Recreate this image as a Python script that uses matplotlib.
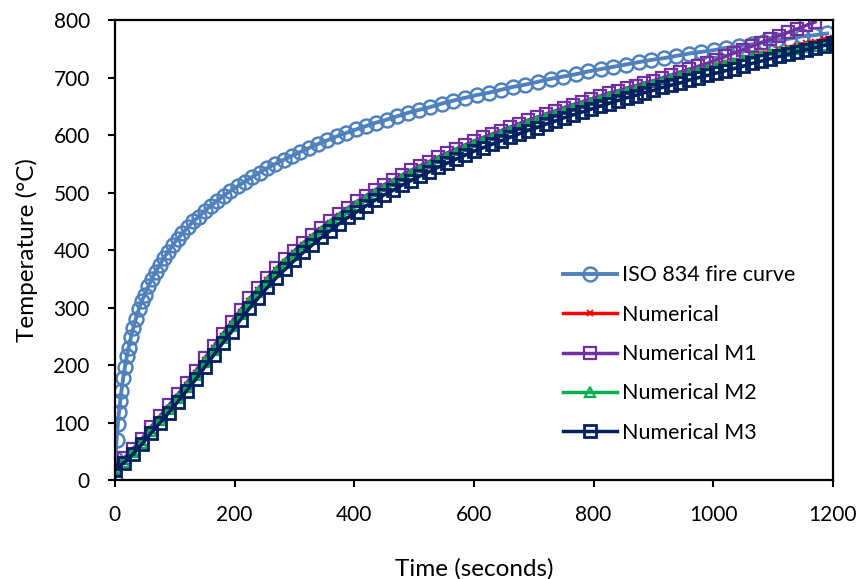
import numpy as np
import matplotlib.pyplot as plt

plt.rcParams['font.family'] = ['Lato', 'DejaVu Sans']

# ISO 834 fire curve (time in s, temperature in degC)
iso_t = [0, 1, 3, 5, 7, 9, 11, 14, 17, 20, 23, 27, 31, 35, 40, 45, 50, 56, 62, 68,
         75, 82, 89, 97, 105, 113, 122, 131, 140, 150, 160, 171, 182, 193, 205, 217,
         229, 242, 255, 268, 282, 296, 310, 325, 340, 355, 371, 387, 403, 420, 437,
         454, 472, 490, 508, 527, 546, 565, 585, 605, 625, 645, 665, 686, 707, 728,
         749, 770, 791, 812, 833, 854, 875, 896, 917, 938, 959, 980, 1001, 1022, 1043,
         1064, 1085, 1106, 1127, 1148, 1169, 1190]
iso_T = [0, 39, 70, 97, 119, 138, 155, 178, 197, 215, 230, 249, 265, 280, 297, 312,
         322, 337, 350, 362, 374, 387, 397, 409, 420, 429, 440, 450, 458, 468, 477,
         486, 495, 503, 511, 519, 527, 535, 543, 550, 557, 564, 571, 578, 585, 591,
         598, 604, 610, 616, 622, 627, 633, 639, 644, 649, 655, 660, 665, 670, 674,
         679, 684, 688, 693, 698, 702, 706, 711, 715, 719, 723, 727, 731, 734, 738,
         742, 745, 748, 752, 755, 758, 762, 765, 768, 772, 774, 777]

# numerical results, sampled every 15 s
num_t = np.arange(0, 1201, 15)
num_T = [20, 34, 50, 68, 88, 107, 126, 145, 165, 186, 208, 229, 250, 271, 292, 312,
         330, 348, 365, 380, 395, 409, 422, 435, 447, 459, 470, 481, 491, 501, 510,
         518, 527, 535, 543, 550, 558, 565, 572, 579, 586, 592, 598, 604, 610, 616,
         622, 627, 633, 638, 644, 649, 654, 659, 664, 669, 673, 678, 682, 687, 691,
         696, 700, 704, 709, 713, 717, 721, 725, 729, 733, 737, 741, 745, 749, 752,
         756, 760, 763, 767, 770]
m1_T = [20, 38, 54, 72, 92, 111, 130, 149, 169, 190, 212, 233, 254, 275, 296, 316,
        334, 352, 369, 384, 399, 413, 426, 439, 451, 463, 474, 485, 495, 505, 514,
        522, 531, 539, 547, 554, 562, 569, 576, 583, 590, 596, 602, 608, 614, 620,
        626, 631, 637, 642, 648, 653, 658, 663, 668, 673, 677, 682, 686, 691, 695,
        700, 705, 710, 715, 720, 725, 731, 737, 743, 749, 755, 761, 767, 773, 779,
        785, 791, 797]
m2_T = [20, 32, 48, 65, 85, 104, 123, 142, 162, 183, 205, 226, 247, 268, 289, 309,
        327, 345, 362, 377, 392, 406, 419, 432, 444, 456, 467, 478, 488, 498, 507,
        515, 524, 532, 540, 547, 555, 562, 569, 576, 583, 589, 595, 601, 607, 613,
        619, 624, 630, 635, 641, 646, 651, 656, 661, 666, 670, 675, 679, 684, 688,
        693, 697, 701, 706, 710, 714, 718, 722, 726, 730, 734, 738, 741, 744, 747,
        750, 753, 755, 757, 759]
m3_T = [18, 30, 45, 62, 81, 99, 117, 136, 155, 175, 196, 217, 238, 258, 279, 299,
        317, 335, 352, 367, 382, 396, 409, 422, 434, 446, 457, 467, 477, 487, 496,
        504, 513, 521, 529, 536, 544, 551, 558, 565, 572, 578, 584, 590, 596, 602,
        608, 613, 619, 624, 630, 635, 640, 645, 650, 655, 660, 665, 669, 674, 678,
        683, 687, 691, 696, 700, 704, 708, 712, 716, 720, 725, 729, 733, 737, 741,
        745, 749, 752, 756, 760]

fig = plt.figure(figsize=(8.57, 5.79), dpi=100)
ax = fig.add_axes([0.134, 0.171, 0.838, 0.794])

ax.plot(iso_t, iso_T, color="#4F81BD", lw=2.8, marker="o", ms=10, mfc="none",
        mew=1.8, label="ISO 834 fire curve")
ax.plot(num_t, num_T, color="#FF0000", lw=2.5, marker="x", ms=4, mew=1.3,
        label="Numerical")
ax.plot(num_t[:len(m1_T)], m1_T, color="#7030A0", lw=2.5, marker="s", ms=8.5,
        mfc="none", mew=1.6, label="Numerical M1")
ax.plot(num_t, m2_T, color="#00B050", lw=2.5, marker="^", ms=7.5, mfc="none",
        mew=1.6, label="Numerical M2")
ax.plot(num_t, m3_T, color="#002060", lw=2.5, marker="s", ms=8.5, mfc="none",
        mew=2.0, label="Numerical M3")

ax.set_xlim(0, 1200)
ax.set_ylim(0, 800)
ax.set_xticks(range(0, 1201, 200))
ax.set_yticks(range(0, 801, 100))
ax.tick_params(direction="out", length=5, width=1.5, labelsize=15)
ax.tick_params(axis="x", pad=13)
ax.tick_params(axis="y", pad=13)
for sp in ax.spines.values():
    sp.set_linewidth(1.6)
ax.set_xlabel("Time (seconds)", fontsize=17.5, labelpad=24)
ax.set_ylabel("Temperature (\u00b0C)", fontsize=17.5, labelpad=11)

ax.legend(loc="upper left", bbox_to_anchor=(0.597, 0.509), frameon=False,
          fontsize=15.5, handlelength=2.5, labelspacing=0.9, handletextpad=0.25)

fig.savefig("out.png", dpi=100)
